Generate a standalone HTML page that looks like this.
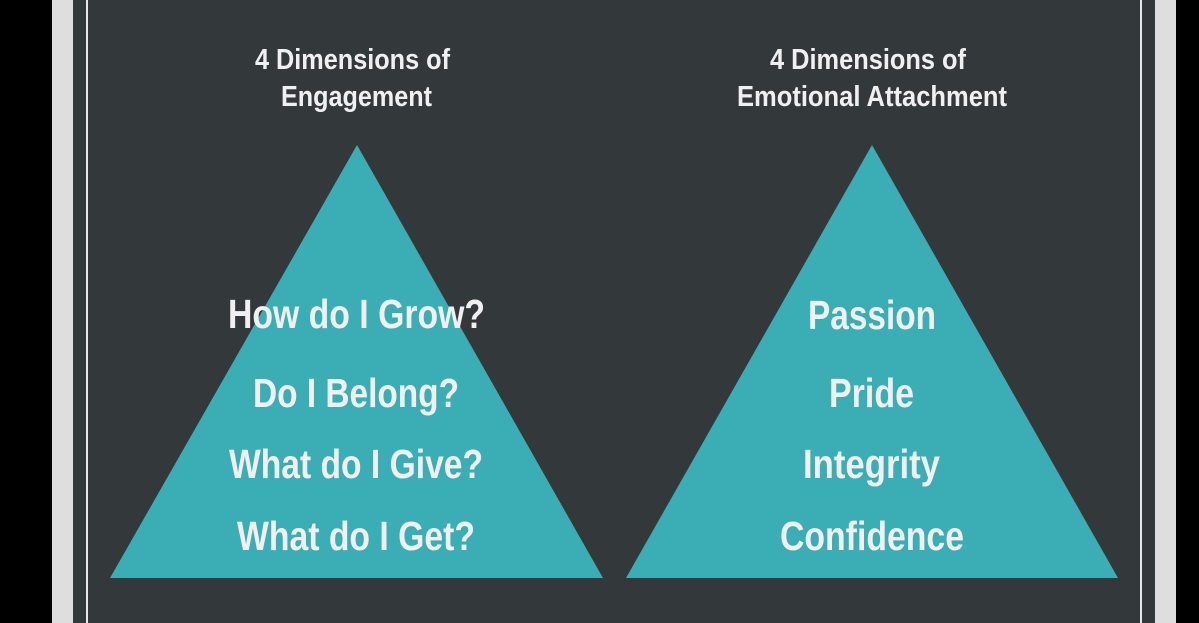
<!DOCTYPE html>
<html><head><meta charset="utf-8"><style>
html,body{margin:0;padding:0;background:#000;width:1199px;height:623px;overflow:hidden}
svg{display:block}
text{font-family:"Liberation Sans Narrow","Liberation Sans",sans-serif;font-weight:bold;fill:#f0f0f0}
</style></head><body>
<svg width="1199" height="623" viewBox="0 0 1199 623" xmlns="http://www.w3.org/2000/svg">
<rect x="0" y="0" width="1199" height="623" fill="#000"/>
<rect x="52" y="0" width="1124" height="623" fill="#dedede"/>
<rect x="73" y="0" width="1082" height="623" fill="#33383b"/>
<rect x="86" y="0" width="2" height="623" fill="#e8e8e8"/>
<rect x="1140" y="0" width="2" height="623" fill="#e8e8e8"/>
<polygon points="357,145 603,578 110,578" fill="#3badb4"/>
<polygon points="872,145 1118,578 626,578" fill="#3badb4"/>
<g font-size="29">
<text x="255" y="69" textLength="195" lengthAdjust="spacingAndGlyphs">4 Dimensions of</text>
<text x="281" y="106" textLength="151" lengthAdjust="spacingAndGlyphs">Engagement</text>
<text x="770" y="69" textLength="196" lengthAdjust="spacingAndGlyphs">4 Dimensions of</text>
<text x="737" y="106" textLength="270" lengthAdjust="spacingAndGlyphs">Emotional Attachment</text>
</g>
<g font-size="41">
<text x="228" y="328" textLength="257" lengthAdjust="spacingAndGlyphs">How do I Grow?</text>
<text x="253" y="407" textLength="206" lengthAdjust="spacingAndGlyphs">Do I Belong?</text>
<text x="229" y="478" textLength="254" lengthAdjust="spacingAndGlyphs">What do I Give?</text>
<text x="237" y="550" textLength="238" lengthAdjust="spacingAndGlyphs">What do I Get?</text>
<text x="808" y="329" textLength="128" lengthAdjust="spacingAndGlyphs">Passion</text>
<text x="829" y="407" textLength="85" lengthAdjust="spacingAndGlyphs">Pride</text>
<text x="803" y="478" textLength="137" lengthAdjust="spacingAndGlyphs">Integrity</text>
<text x="780" y="550" textLength="184" lengthAdjust="spacingAndGlyphs">Confidence</text>
</g>
</svg>
</body></html>
